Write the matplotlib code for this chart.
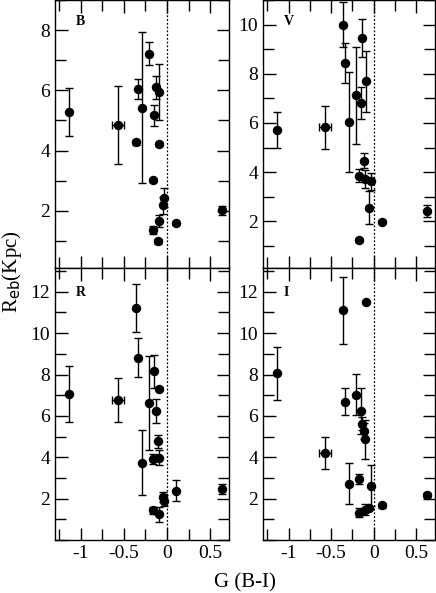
import matplotlib
matplotlib.use("Agg")
import matplotlib.pyplot as plt
from matplotlib.ticker import MultipleLocator, FuncFormatter

plt.rcParams['font.family'] = ['Liberation Serif', 'DejaVu Serif']
plt.rcParams['axes.unicode_minus'] = False

# G(B-I) colour, radius and errors for each band
b_x = [-1.137, -0.567, -0.363, -0.340, -0.287, -0.210, -0.167, -0.152, -0.133,
       -0.087, -0.098, -0.167, -0.087, -0.106, -0.052, -0.029, 0.102, 0.633]
b_y = [5.28, 4.86, 4.27, 6.04, 5.43, 7.21, 3.02, 5.17, 6.10,
       5.94, 4.21, 1.37, 1.67, 0.99, 2.18, 2.44, 1.59, 2.02]
b_yerr = [0.8, 1.3, 0.08, 0.33, 2.5, 0.38, 0.05, 0.35, 0.38,
          0.93, 0.05, 0.13, 0.2, 0.08, 0.28, 0.32, 0.05, 0.15]
b_xerr = [0, 0.07, 0, 0, 0, 0, 0, 0, 0, 0, 0, 0, 0, 0, 0, 0, 0, 0]

v_x = [-1.138, -0.577, -0.365, -0.342, -0.292, -0.212, -0.154, -0.135, -0.092,
       -0.169, -0.115, -0.100, -0.031, -0.054, -0.169, 0.096, 0.623]
v_y = [5.70, 5.82, 10.0, 8.45, 6.04, 7.12, 6.82, 9.46, 7.69,
       3.86, 4.46, 3.73, 3.62, 2.56, 1.24, 1.99, 2.42]
v_yerr = [0.73, 0.87, 0.93, 0.82, 2.04, 1.97, 0.64, 0.78, 1.24,
          0.25, 0.3, 0.36, 0.33, 0.68, 0.1, 0.05, 0.23]
v_xerr = [0, 0.07, 0, 0, 0, 0, 0, 0, 0, 0, 0, 0, 0, 0, 0, 0, 0]

r_x = [-1.137, -0.567, -0.360, -0.340, -0.287, -0.210, -0.152, -0.133, -0.087,
       -0.106, -0.167, -0.098, -0.167, -0.087, -0.052, -0.029, 0.102, 0.633]
r_y = [7.06, 6.76, 11.21, 8.82, 3.73, 6.63, 8.16, 6.24, 7.32,
       4.77, 3.92, 3.98, 1.44, 1.24, 2.08, 1.90, 2.39, 2.48]
r_yerr = [1.35, 1.06, 1.17, 0.94, 1.57, 2.28, 0.8, 0.6, 0.08,
          0.33, 0.24, 0.37, 0.17, 0.36, 0.24, 0.28, 0.5, 0.25]
r_xerr = [0, 0.07, 0, 0, 0, 0, 0, 0, 0, 0, 0, 0, 0, 0, 0, 0, 0, 0]

i_x = [-1.138, -0.577, -0.365, -0.342, -0.292, -0.212, -0.154, -0.135, -0.115,
       -0.104, -0.092, -0.169, -0.031, -0.169, -0.100, -0.054, 0.096, 0.623]
i_y = [8.05, 4.21, 11.10, 6.68, 2.73, 7.03, 6.24, 5.63, 5.27,
       4.87, 11.52, 2.94, 2.63, 1.32, 1.47, 1.56, 1.69, 2.18]
i_yerr = [1.3, 0.77, 1.63, 0.65, 0.97, 0.98, 1.1, 0.3, 0.4,
          0.93, 0.05, 0.23, 0.98, 0.23, 0.28, 0.05, 0.12, 0.1]
i_xerr = [0, 0.07, 0, 0, 0, 0, 0, 0, 0, 0, 0, 0, 0, 0, 0, 0, 0, 0]

W, H = 436, 593
fig = plt.figure(figsize=(W / 100, H / 100), dpi=100)

def box(l, t, r, b):
    return [l / W, 1 - b / H, (r - l) / W, (b - t) / H]

def ylab(v, pos):
    # no label at zero, integers only
    if abs(v) < 1e-6:
        return ''
    return '%d' % round(v)

panels = [
    ("B", b_x, b_y, b_xerr, b_yerr, box(55, 0, 229, 268), (0.1, 9.0), True),
    ("V", v_x, v_y, v_xerr, v_yerr, box(263, 0, 435, 268), (0.1, 11.0), True),
    ("R", r_x, r_y, r_xerr, r_yerr, box(55, 268, 229, 540), (0.0, 13.15), False),
    ("I", i_x, i_y, i_xerr, i_yerr, box(263, 268, 435, 540), (0.0, 13.15), False),
]

for name, x, y, xe, ye, pos, ylim, top in panels:
    ax = fig.add_axes(pos)
    ax.errorbar(x, y, yerr=ye, xerr=xe, fmt='o', color='black', ms=5.8,
                elinewidth=1.0, capsize=2.8, capthick=1.0)
    ax.axvline(0, color='black', ls=(0, (1.5, 1.5)), lw=0.9)
    ax.set_xlim(-1.3, 0.72)
    ax.set_ylim(*ylim)
    ax.xaxis.set_minor_locator(MultipleLocator(0.25))
    ax.yaxis.set_major_locator(MultipleLocator(2))
    ax.yaxis.set_minor_locator(MultipleLocator(1))
    ax.yaxis.set_major_formatter(FuncFormatter(ylab))
    ax.tick_params(which='both', direction='in', top=True, right=True,
                   labelsize=14, width=1.0)
    ax.tick_params(which='major', length=9)
    ax.tick_params(which='minor', length=8)
    ax.set_xticks([-1, -0.5, 0, 0.5])
    ax.set_xticklabels(['-1', '-0.5', '0', '0.5'])
    if top:
        ax.tick_params(labelbottom=False)
    for s in ax.spines.values():
        s.set_linewidth(1.0)
    ax.text(0.12, 0.92 if top else 0.91, name, transform=ax.transAxes,
            fontsize=10, fontweight='bold', va='center', ha='left')

fig.text(245 / W, 1 - 583 / H, 'G (B-I)', ha='center', va='center', fontsize=15)
fig.text(12 / W, 1 - 272 / H, r'R$_{\rm eb}$(Kpc)', ha='center', va='center',
         rotation=90, fontsize=15)

fig.savefig('out.png', dpi=100)
